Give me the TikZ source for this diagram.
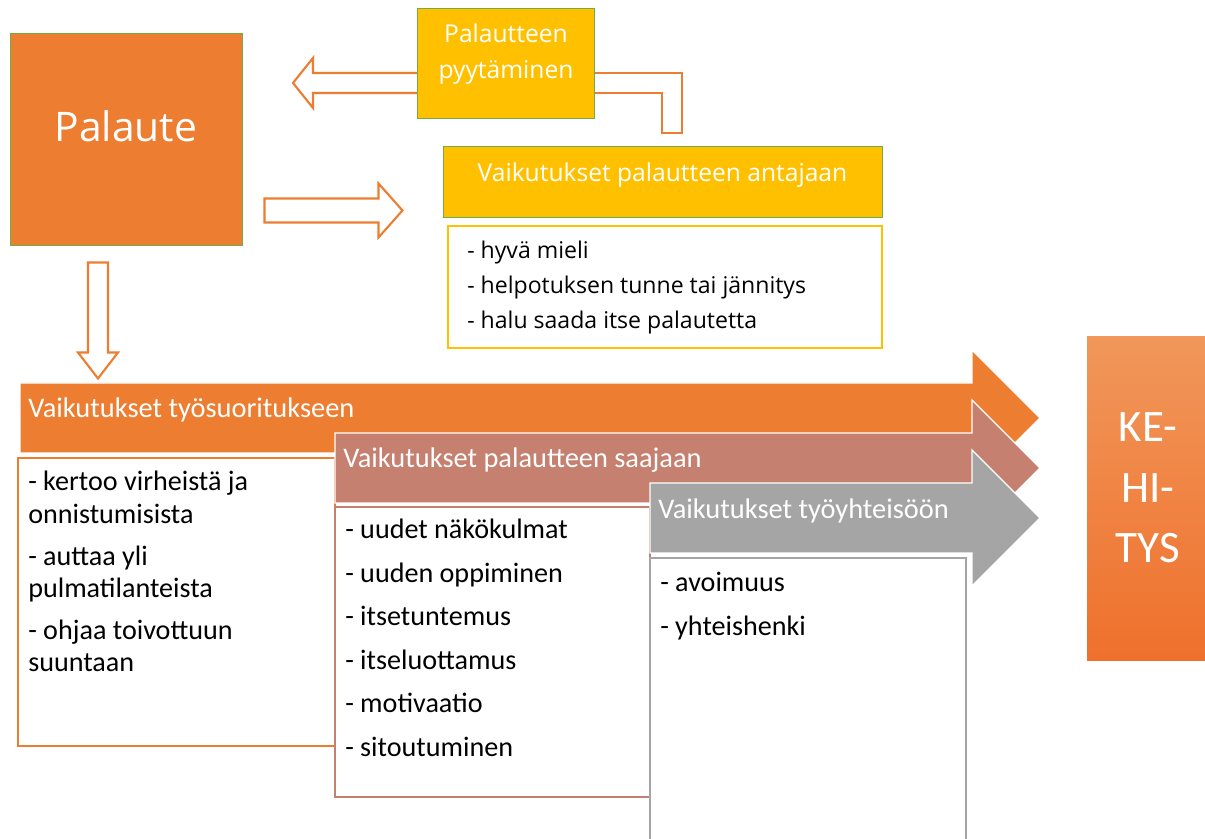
\documentclass[tikz,border=0pt]{standalone}
\usepackage{fontspec}
\setmainfont{Open Sans}
\newfontfamily\calfont{Carlito}
\usetikzlibrary{calc}
\definecolor{oranssi}{HTML}{ED7D31}
\definecolor{keltainen}{HTML}{FFC000}
\definecolor{vihrea}{HTML}{70AD47}
\definecolor{ruskea}{HTML}{C5806F}
\definecolor{harmaa}{HTML}{A5A5A5}
\newcommand{\pxu}{0.025cm}
\tikzset{
	laatikko/.style={draw=vihrea, line width=0.7pt, inner sep=0pt},
	ontto/.style={draw=oranssi, line width=1.5pt, fill=white, line join=miter},
	lista/.style={draw=#1, line width=1.5pt, fill=white, inner sep=0pt},
	nuoli/.style={fill=#1, draw=white, line width=0.8pt},
	otsikko/.style={font=\calfont\fontsize{20.2}{24}\selectfont, text=white, anchor=base west, inner sep=0pt},
	kohdat/.style={font=\calfont\fontsize{20}{#1}\selectfont, anchor=base west, inner sep=0pt, align=left, text width=290*\pxu,
		execute at begin node={\spaceskip=0pt\xspaceskip=0pt}}
}
\begin{document}
\begin{tikzpicture}[x=0.025cm, y=-0.025cm]
	\clip (0,0) rectangle (1205,839);
	\fill[white] (0,0) rectangle (1205,839);

	% ylaosa
	\node[laatikko, fill=oranssi, minimum width=232*\pxu, minimum height=212*\pxu] (palaute) at (126,139) {};
	\node[font=\fontsize{29}{34}\selectfont, text=white, anchor=base, inner sep=0pt] (palauteteksti) at (126,142) {Palaute};

	\coordinate (pyytovi) at (506,63);
	\draw[ontto] ($(pyytovi)+(-88,10)$) -- ++(-105,0) -- ++(0,-15) -- ++(-20,25) -- ++(20,25) -- ++(0,-15) -- ++(105,0);
	\draw[ontto] ($(pyytovi)+(89,10)$) -- ++(87,0) -- ++(0,60) -- ++(-20,0) -- ++(0,-40) -- ++(-67,0);
	\node[laatikko, fill=keltainen, minimum width=177*\pxu, minimum height=110*\pxu] (pyyt) at (pyytovi) {};
	\node[font=\fontsize{17.5}{24.9}\selectfont, text=white, anchor=base, inner sep=0pt, align=center, text width=170*\pxu] (pyytteksti) at (506,43) {Palautteen\\pyytäminen};

	\draw[ontto] ($(palaute.south east)+(22,-47)$) -- ++(114,0) -- ++(0,-15) -- ++(24,27) -- ++(-24,27) -- ++(0,-15) -- ++(-114,0) -- cycle;
	\draw[ontto] ($(palaute.south)+(-38,17)$) -- ++(0,90) -- ++(-10,0) -- ++(20,26) -- ++(20,-26) -- ++(-10,0) -- ++(0,-90) -- cycle;

	\node[laatikko, fill=keltainen, minimum width=439*\pxu, minimum height=71*\pxu] (antajaan) at (662.5,181.5) {};
	\node[font=\fontsize{17.5}{21}\selectfont, text=white, anchor=base, inner sep=0pt] (antajaanteksti) at (662.5,182) {Vaikutukset palautteen antajaan};
	\node[lista=keltainen, minimum width=434*\pxu, minimum height=122*\pxu] (antajaanlista) at (665,287) {};
	\node[font=\fontsize{16.4}{24.7}\selectfont, anchor=base west, inner sep=0pt, align=left, text width=400*\pxu,
		execute at begin node={\spaceskip=0pt\xspaceskip=0pt}] (antajaankohdat) at (467,259) {- hyvä mieli\\- helpotuksen tunne tai jännitys\\- halu saada itse palautetta};

	% isot nuolet
	\draw[nuoli=oranssi] (20,383) -- (972,383) -- (972,350) -- (1040,418) -- (972,486) -- (972,453) -- (20,453) -- cycle;
	\node[otsikko] (suoritus) at (28,418) {Vaikutukset työsuoritukseen};
	\node[lista=oranssi, minimum width=317*\pxu, minimum height=288*\pxu] (suorituslista) at (176.5,602) {};
	\node[kohdat=22.8] (suorituskohdat) at (28,491) {- kertoo virheistä ja\\onnistumisista\\[7.1pt]- auttaa yli\\pulmatilanteista\\[7.1pt]- ohjaa toivottuun\\suuntaan};

	\draw[nuoli=ruskea] (335,433) -- (972,433) -- (972,400) -- (1040,468) -- (972,536) -- (972,503) -- (335,503) -- cycle;
	\node[otsikko] (saaja) at (343,468) {Vaikutukset palautteen saajaan};
	\node[lista=ruskea, minimum width=315*\pxu, minimum height=290*\pxu] (saajalista) at (492.5,652) {};
	\node[kohdat=30.9] (saajakohdat) at (345,539) {- uudet näkökulmat\\- uuden oppiminen\\- itsetuntemus\\- itseluottamus\\- motivaatio\\- sitoutuminen};

	\draw[nuoli=harmaa] (650,483) -- (972,483) -- (972,450) -- (1040,518) -- (972,586) -- (972,553) -- (650,553) -- cycle;
	\node[otsikko] (yhteiso) at (658,519) {Vaikutukset työyhteisöön};
	\node[lista=harmaa, minimum width=316*\pxu, minimum height=300*\pxu] (yhteisolista) at (808,708) {};
	\node[kohdat=31.3] (yhteisokohdat) at (660,591) {- avoimuus\\- yhteishenki};

	% kehitys
	\node[inner sep=0pt, minimum width=118*\pxu, minimum height=323*\pxu, top color=oranssi!80!white, bottom color=oranssi!90!red, draw=none] (kehitys) at (1146,498.5) {};
	\node[font=\calfont\fontsize{32}{42.7}\selectfont, text=white, anchor=base, inner sep=0pt, align=center, text width=110*\pxu] (kehitysteksti) at (1148,442) {KE-\\HI-\\TYS};
\end{tikzpicture}
\end{document}
